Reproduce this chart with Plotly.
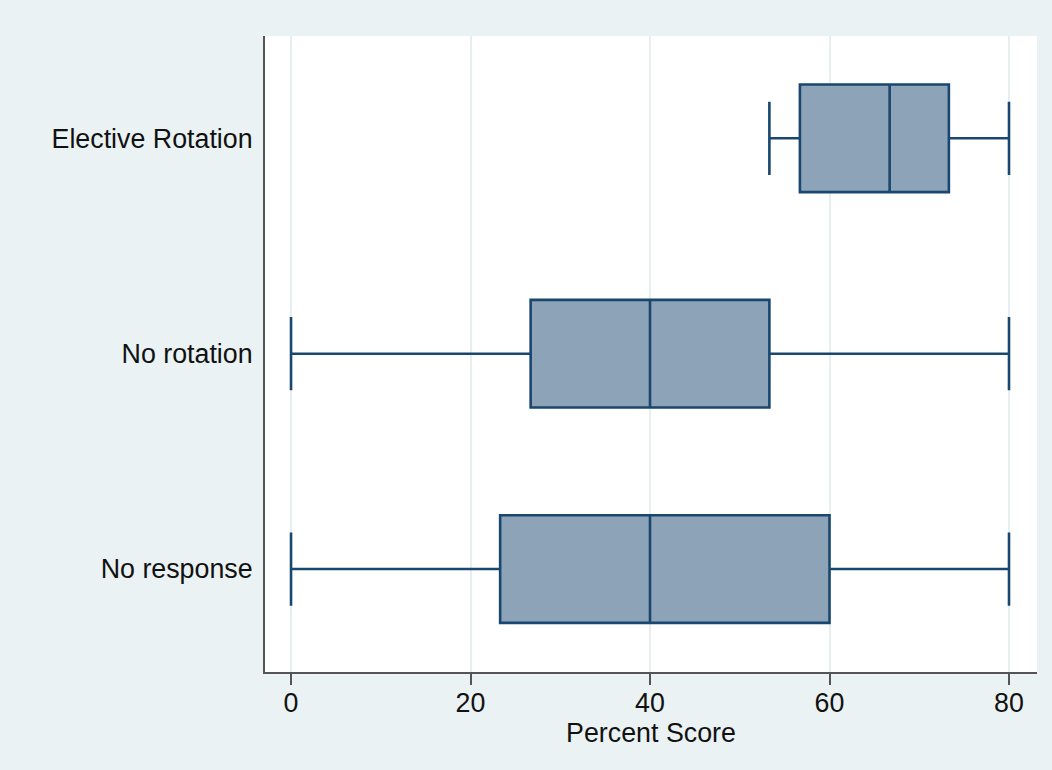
import plotly.graph_objects as go

categories = ["No response", "No rotation", "Elective Rotation"]
lower_whisker = [0.0, 0.0, 53.3]
q1_values = [23.3, 26.7, 56.7]
median_values = [40.0, 40.0, 66.7]
q3_values = [60.0, 53.3, 73.3]
upper_whisker = [80.0, 80.0, 80.0]
x_ticks = [0, 20, 40, 60, 80]

fig = go.Figure()
fig.add_trace(go.Box(
    y=categories,
    q1=q1_values,
    median=median_values,
    q3=q3_values,
    lowerfence=lower_whisker,
    upperfence=upper_whisker,
    orientation="h",
    width=0.5,
    whiskerwidth=0.68,
    fillcolor="#8ca3b8",
    line=dict(color="#1a476f", width=2.6),
    boxpoints=False,
    showlegend=False,
    hoverinfo="skip",
))

font = dict(family="Liberation Sans, Arial, sans-serif", size=26.8, color="#111111")

fig.update_layout(
    width=1052, height=770,
    paper_bgcolor="#eaf2f3",
    plot_bgcolor="#ffffff",
    margin=dict(l=265, r=15, t=36, b=98, autoexpand=False),
    font=font,
    xaxis=dict(
        range=[-2.9, 83.12],
        tickmode="array", tickvals=x_ticks,
        showgrid=True, gridcolor="#e6eef0", gridwidth=2,
        zeroline=False,
        showline=True, linecolor="#555555", linewidth=2,
        ticks="outside", ticklen=11, tickwidth=1.5, tickcolor="#555555",
        tickfont=font, ticklabelstandoff=-5,
        title=dict(text="Percent Score", font=font, standoff=0),
        automargin=False,
    ),
    yaxis=dict(
        type="category",
        categoryorder="array", categoryarray=categories,
        range=[-0.478, 2.475],
        showgrid=False, zeroline=False,
        showline=True, linecolor="#555555", linewidth=2,
        ticks="", ticklabelstandoff=5,
        tickfont=font,
        automargin=False,
    ),
)

fig.write_html(
    "out.html",
    config={"displayModeBar": False},
    post_script="document.body.style.margin='0';document.body.style.overflow='hidden';",
)
